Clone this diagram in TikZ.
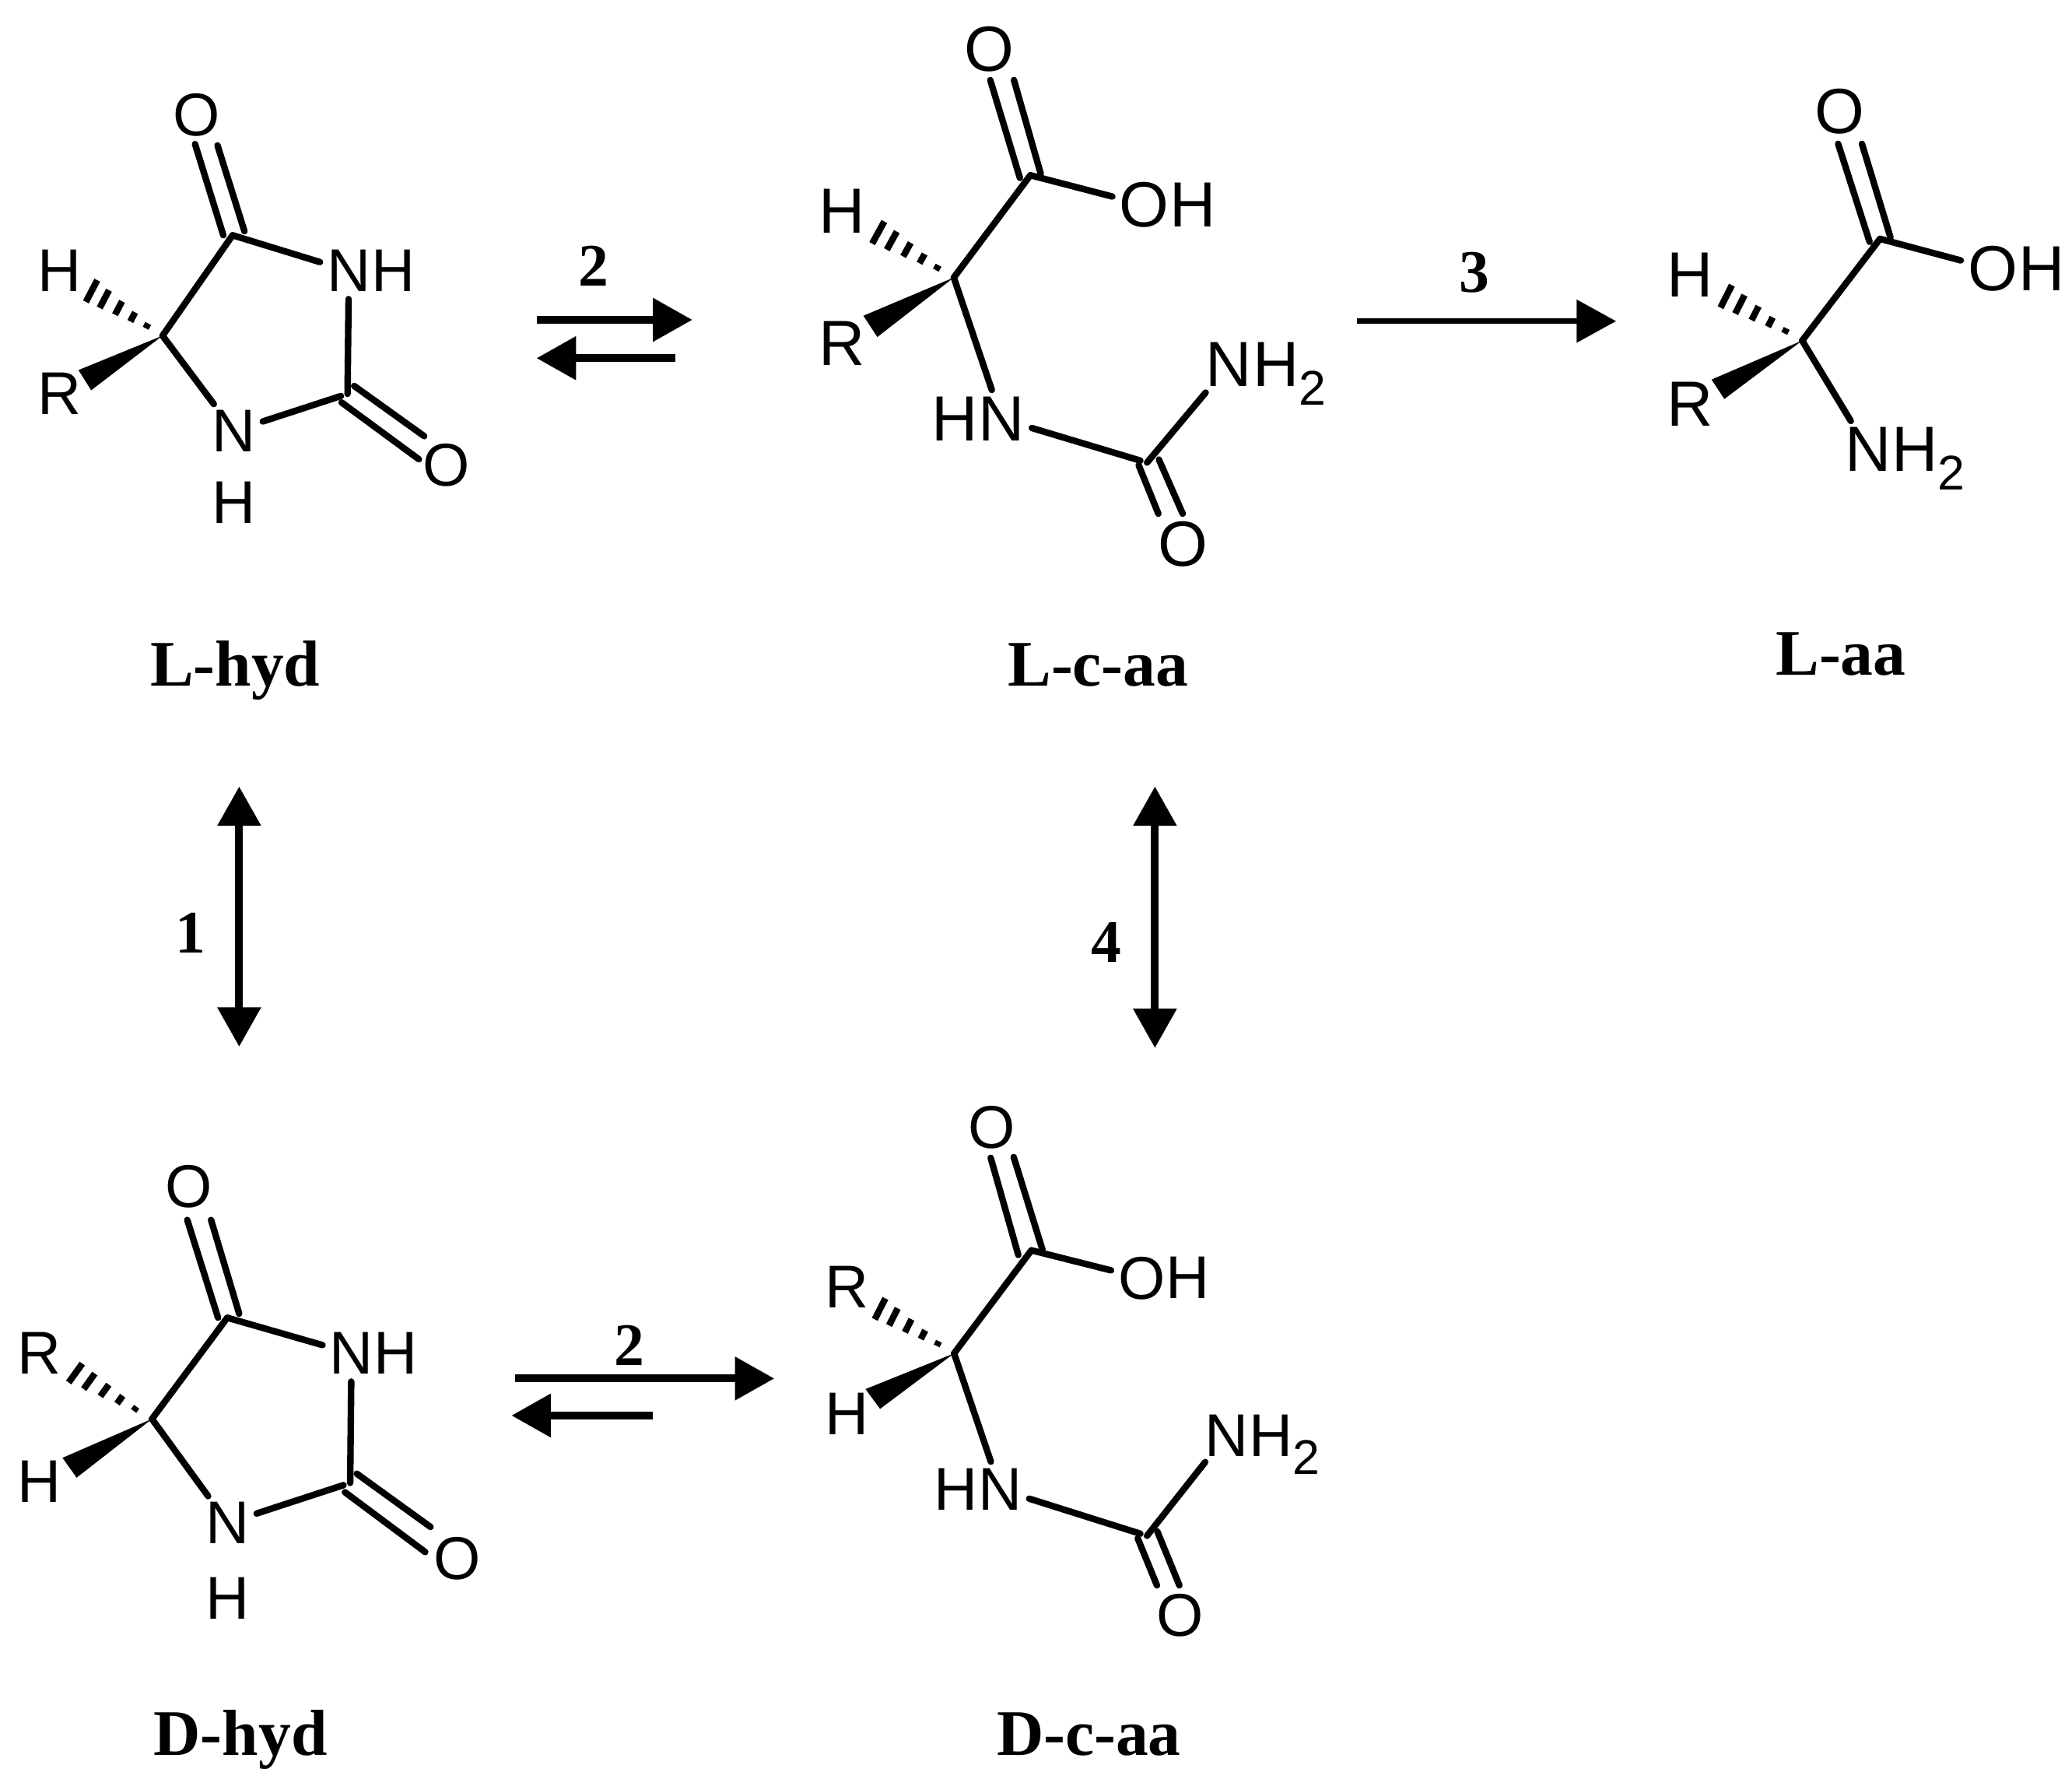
\documentclass[tikz,border=0pt]{standalone}
\usepackage{fontspec}
\setmainfont{Liberation Serif}
\setsansfont{Liberation Sans}
\usepackage{tikz}
\usetikzlibrary{arrows.meta,calc,positioning}
\tikzstyle{atom} = [inner sep=0pt, text=black, font=\sffamily\fontsize{26}{26}\selectfont]
\tikzstyle{atomb} = [inner sep=0pt, text=black, font=\sffamily\fontsize{27.5}{27.5}\selectfont]
\tikzstyle{cpd} = [inner sep=0pt, text=black, font=\bfseries\fontsize{28}{28}\selectfont]
\tikzstyle{num} = [inner sep=0pt, text=black, font=\bfseries\fontsize{26}{26}\selectfont]
\tikzstyle{bond} = [draw, line width=2.8pt, line cap=round, black]
\tikzstyle{tobond} = [bond, shorten >=3pt]
\tikzstyle{bothbond} = [bond, shorten >=3pt, shorten <=3pt]
\tikzstyle{hashline} = [draw, line width=2.8pt, black]
\tikzstyle{one} = [draw, line width=2.4pt, -{Triangle[length=17pt,width=18pt]}]
\tikzstyle{rxn} = [draw, line width=3.4pt, -{Triangle[length=17pt,width=18pt]}]
\tikzstyle{both} = [draw, line width=3.4pt, {Triangle[length=17pt,width=18pt]}-{Triangle[length=17pt,width=18pt]}]
\newcommand{\hashwedge}[3]{\foreach \f in {0.22,0.42,0.62,0.82,1.0}
  {\path[hashline] ($(#1)!\f!(#2)$) -- ($(#1)!\f!(#3)$);}}
\newcommand{\subtwo}{\raisebox{-8pt}{\fontsize{21}{21}\selectfont 2}}
\begin{document}
\begin{tikzpicture}[x=0.02cm, y=-0.02cm]
\useasboundingbox (0,0) rectangle (1568,1351);

% L-hyd =============================
\coordinate (lhC) at (123,254);
\coordinate (lhCa) at (176,178);
\coordinate (lhCb) at (263,298);
\coordinate (lhHa) at (73.6,212);
\coordinate (lhHb) at (65,228.4);
\coordinate (lhWa) at (59.4,280);
\coordinate (lhWb) at (69,295.3);
\node[atom] (lhO) at (148.6,87) {O};
\node[atom] (lhH) at (45,205) {H};
\node[atom] (lhR) at (45,298) {R};
\node[atom] (lhNa) at (264,205) {N};
\node[atom, right=0pt of lhNa] (lhNaH) {H};
\node[atom] (lhNb) at (177,326) {N};
\node[atom] (lhNbH) at (177,380) {H};
\node[atom] (lhOb) at (338,352) {O};
\node[cpd] (lhyd) at (178,507) {L-hyd};

\path[bond] ([shift={(-7,0)}]lhCa) -- ([shift={(-1,22)}]lhO.center);
\path[bond] ([shift={(9,-3)}]lhCa) -- ([shift={(16,23)}]lhO.center);
\path[tobond] (lhCa) -- (lhNa);
\path[bond] (lhC) -- (lhCa);
\path[tobond] (lhC) -- (lhNb);
\path[bothbond] (lhNb) -- (lhCb);
\path[tobond] (lhCb) -- (lhNa);
\path[bond] ([shift={(5,-6)}]lhCb) -- ([shift={(-17,-22)}]lhOb.center);
\path[bond] ([shift={(-4.5,6.5)}]lhCb) -- ([shift={(-21,-4.5)}]lhOb.center);
\fill (lhC) -- (lhWa) -- (lhWb) -- cycle;
\hashwedge{lhC}{lhHa}{lhHb}

% L-c-aa =============================
\coordinate (lcC) at (721.8,210);
\coordinate (lcCa) at (779.7,132.6);
\coordinate (lcCb) at (868,350);
\coordinate (lcHa) at (669.2,167.6);
\coordinate (lcHb) at (660,184.3);
\coordinate (lcWa) at (653.4,238.9);
\coordinate (lcWb) at (663.9,255);
\node[atomb] (lcO) at (748.6,37) {O};
\node[atomb] (lcOa) at (866,155) {O};
\node[atomb, right=0pt of lcOa] (lcOaH) {H};
\node[atomb] (lcH) at (637,160) {H};
\node[atomb] (lcR) at (637,260) {R};
\node[atomb] (lcN) at (758,317) {N};
\node[atomb, left=0pt of lcN] (lcNH) {H};
\node[atomb] (lcNb) at (930,276) {N};
\node[atomb, base right=0pt of lcNb] (lcNbH) {H\subtwo};
\node[atomb] (lcOb) at (895,412) {O};
\node[cpd] (lcaa) at (831,503) {L-c-aa};

\path[bond] ([shift={(-7.9,2)}]lcCa) -- ([shift={(0.8,23.6)}]lcO.center);
\path[bond] ([shift={(7.9,-1)}]lcCa) -- ([shift={(18.7,23.6)}]lcO.center);
\path[tobond] (lcCa) -- (lcOa);
\path[bond] (lcC) -- (lcCa);
\path[tobond] (lcC) -- (lcN);
\path[bothbond] (lcN) -- (lcCb);
\path[tobond] (lcCb) -- (lcNb);
\path[bond] ([shift={(-6.3,2)}]lcCb) -- ([shift={(-18.4,-23.3)}]lcOb.center);
\path[bond] ([shift={(9,-2.3)}]lcCb) -- ([shift={(0,-23.3)}]lcOb.center);
\fill (lcC) -- (lcWa) -- (lcWb) -- cycle;
\hashwedge{lcC}{lcHa}{lcHb}

% L-aa =============================
\coordinate (laC) at (1363.8,257.7);
\coordinate (laCa) at (1422.7,180.7);
\coordinate (laHa) at (1310.6,215.8);
\coordinate (laHb) at (1302,232.8);
\coordinate (laWa) at (1295.2,287.2);
\coordinate (laWb) at (1304.9,301.9);
\node[atomb] (laO) at (1392,84.5) {O};
\node[atomb] (laOa) at (1508,203.5) {O};
\node[atomb, right=0pt of laOa] (laOaH) {H};
\node[atomb] (laH) at (1279,208) {H};
\node[atomb] (laR) at (1279,305.5) {R};
\node[atomb] (laN) at (1413.6,340) {N};
\node[atomb, base right=0pt of laN] (laNH) {H\subtwo};
\node[cpd] (laa) at (1393,495) {L-aa};

\path[bond] ([shift={(-7.9,2.3)}]laCa) -- ([shift={(-1,24.3)}]laO.center);
\path[bond] ([shift={(7.9,-1.1)}]laCa) -- ([shift={(17,24.3)}]laO.center);
\path[tobond] (laCa) -- (laOa);
\path[bond] (laC) -- (laCa);
\path[tobond] (laC) -- (laN);
\fill (laC) -- (laWa) -- (laWb) -- cycle;
\hashwedge{laC}{laHa}{laHb}

% D-hyd =============================
\coordinate (dhC) at (115,1073.6);
\coordinate (dhCa) at (172,997);
\coordinate (dhCb) at (265,1122);
\coordinate (dhHa) at (62.3,1031.7);
\coordinate (dhHb) at (52,1046);
\coordinate (dhWa) at (47.3,1103);
\coordinate (dhWb) at (58,1118);
\node[atom] (dhO) at (142.7,898) {O};
\node[atom] (dhR) at (30,1024) {R};
\node[atom] (dhH) at (30,1121) {H};
\node[atom] (dhNa) at (266,1024) {N};
\node[atom, right=0pt of dhNa] (dhNaH) {H};
\node[atom] (dhNb) at (172.3,1152.3) {N};
\node[atom] (dhNbH) at (172.3,1209) {H};
\node[atom] (dhOb) at (345.8,1179.3) {O};
\node[cpd] (dhyd) at (182,1316) {D-hyd};

\path[bond] ([shift={(-7,0)}]dhCa) -- ([shift={(-1,25)}]dhO.center);
\path[bond] ([shift={(9,-3)}]dhCa) -- ([shift={(17,25)}]dhO.center);
\path[tobond] (dhCa) -- (dhNa);
\path[bond] (dhC) -- (dhCa);
\path[tobond] (dhC) -- (dhNb);
\path[bothbond] (dhNb) -- (dhCb);
\path[tobond] (dhCb) -- (dhNa);
\path[bond] ([shift={(5,-7)}]dhCb) -- ([shift={(-20,-24)}]dhOb.center);
\path[bond] ([shift={(-4,7)}]dhCb) -- ([shift={(-24,-5)}]dhOb.center);
\fill (dhC) -- (dhWa) -- (dhWb) -- cycle;
\hashwedge{dhC}{dhHa}{dhHb}

% D-c-aa =============================
\coordinate (dcC) at (722,1024);
\coordinate (dcCa) at (780.5,946);
\coordinate (dcCb) at (868,1162);
\coordinate (dcHa) at (670,982.4);
\coordinate (dcHb) at (662,998.2);
\coordinate (dcWa) at (655,1051);
\coordinate (dcWb) at (666,1066);
\node[atom] (dcO) at (750.5,853) {O};
\node[atom] (dcOa) at (864,967) {O};
\node[atom, right=0pt of dcOa] (dcOaH) {H};
\node[atom] (dcR) at (641,974) {R};
\node[atom] (dcH) at (641,1070) {H};
\node[atom] (dcN) at (757,1127) {N};
\node[atom, left=0pt of dcN] (dcNH) {H};
\node[atom] (dcNb) at (928,1086) {N};
\node[atom, base right=0pt of dcNb] (dcNbH) {H\subtwo};
\node[atom] (dcOb) at (893,1222) {O};
\node[cpd] (dcaa) at (824,1312) {D-c-aa};

\path[bond] ([shift={(-9.9,3.5)}]dcCa) -- ([shift={(-0.8,23)}]dcO.center);
\path[bond] ([shift={(8.4,-0.4)}]dcCa) -- ([shift={(16.6,22.4)}]dcO.center);
\path[tobond] (dcCa) -- (dcOa);
\path[bond] (dcC) -- (dcCa);
\path[tobond] (dcC) -- (dcN);
\path[bothbond] (dcN) -- (dcCb);
\path[tobond] (dcCb) -- (dcNb);
\path[bond] ([shift={(-7,2)}]dcCb) -- ([shift={(-17.5,-22.5)}]dcOb.center);
\path[bond] ([shift={(7.8,-3.3)}]dcCb) -- ([shift={(-0.5,-22.5)}]dcOb.center);
\fill (dcC) -- (dcWa) -- (dcWb) -- cycle;
\hashwedge{dcC}{dcHa}{dcHb}

% arrows =============================
\coordinate (tfA) at (406,242);
\coordinate (tfB) at (524,242);
\coordinate (trA) at (511,271);
\coordinate (trB) at (406,271);
\coordinate (sA) at (1027,243);
\coordinate (sB) at (1223,243);
\coordinate (bfA) at (390,1043);
\coordinate (bfB) at (586,1043);
\coordinate (brA) at (494,1071);
\coordinate (brB) at (387,1071);
\coordinate (vaA) at (181,595);
\coordinate (vaB) at (181,792);
\coordinate (vbA) at (874,595);
\coordinate (vbB) at (874,793);
\node[num] (ntop) at (449,201) {2};
\node[num] (nthree) at (1116,206) {3};
\node[num] (none) at (144,706) {1};
\node[num] (nfour) at (837,713) {4};
\node[num] (nbot) at (476,1018) {2};

\path[rxn] (tfA) -- (tfB);
\path[rxn] (trA) -- (trB);
\path[one] (sA) -- (sB);
\path[rxn] (bfA) -- (bfB);
\path[rxn] (brA) -- (brB);
\path[both] (vaA) -- (vaB);
\path[both] (vbA) -- (vbB);

\end{tikzpicture}
\end{document}
